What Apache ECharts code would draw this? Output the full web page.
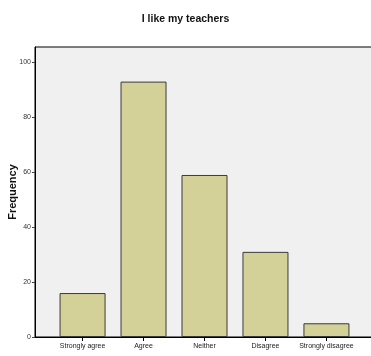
<!DOCTYPE html>
<html>
<head>
<meta charset="utf-8">
<script src="https://cdn.jsdelivr.net/npm/echarts@6/dist/echarts.min.js"></script>
<style>
html,body{margin:0;padding:0;background:#fff;}
#chart{width:371px;height:356px;}
</style>
</head>
<body>
<div id="chart"></div>
<script>
var title = 'I like my teachers';
var categories = ['Strongly agree', 'Agree', 'Neither', 'Disagree', 'Strongly disagree'];
var frequency = [16, 93, 59, 31, 5];
var yTicks = [0, 20, 40, 60, 80, 100];

var font = '"Liberation Sans Narrow", "Liberation Sans", Arial, sans-serif';
var catIdx = categories.map(function (c, i) { return i; });
var barData = frequency.map(function (v, i) { return [i, v]; });

var chart = echarts.init(document.getElementById('chart'), null, {renderer: 'canvas'});
chart.setOption({
  animation: false,
  backgroundColor: '#ffffff',
  title: {
    text: title,
    left: 'center',
    top: 9,
    textStyle: {fontFamily: font, fontSize: 10.5, fontWeight: 'bold', color: '#111'}
  },
  grid: {
    left: 35, top: 47, right: -3, bottom: 19,
    outerBoundsMode: 'none',
    containLabel: false,
    show: true,
    backgroundColor: '#f0f0f0',
    borderColor: '#000',
    borderWidth: 1
  },
  xAxis: {
    type: 'value',
    min: -0.78, max: 4.78,
    splitLine: {show: false},
    axisLine: {show: true, onZero: false, lineStyle: {color: '#000', width: 1}},
    axisTick: {show: true, length: 4, lineStyle: {color: '#000'}, customValues: catIdx},
    axisLabel: {
      show: true, customValues: catIdx, margin: 6,
      fontFamily: font, fontSize: 7, color: '#222',
      formatter: function (v) { return categories[Math.round(v)] || ''; }
    }
  },
  yAxis: {
    type: 'value',
    min: 0, max: 105.6,
    name: 'Frequency',
    nameLocation: 'middle',
    nameGap: 17,
    nameMoveOverlap: false,
    nameRotate: 90,
    nameTextStyle: {fontFamily: font, fontSize: 11, fontWeight: 'bold', color: '#111'},
    splitLine: {show: false},
    axisLine: {show: true, onZero: false, lineStyle: {color: '#000', width: 1}},
    axisTick: {show: true, length: 3, lineStyle: {color: '#444'}, customValues: yTicks},
    axisLabel: {show: true, customValues: yTicks, margin: 4, fontFamily: font, fontSize: 7, color: '#333'}
  },
  series: [{
    type: 'bar',
    data: barData,
    barWidth: 46,
    itemStyle: {color: '#d3d197', borderColor: '#3a3a3a', borderWidth: 1}
  }]
});
</script>
</body>
</html>
